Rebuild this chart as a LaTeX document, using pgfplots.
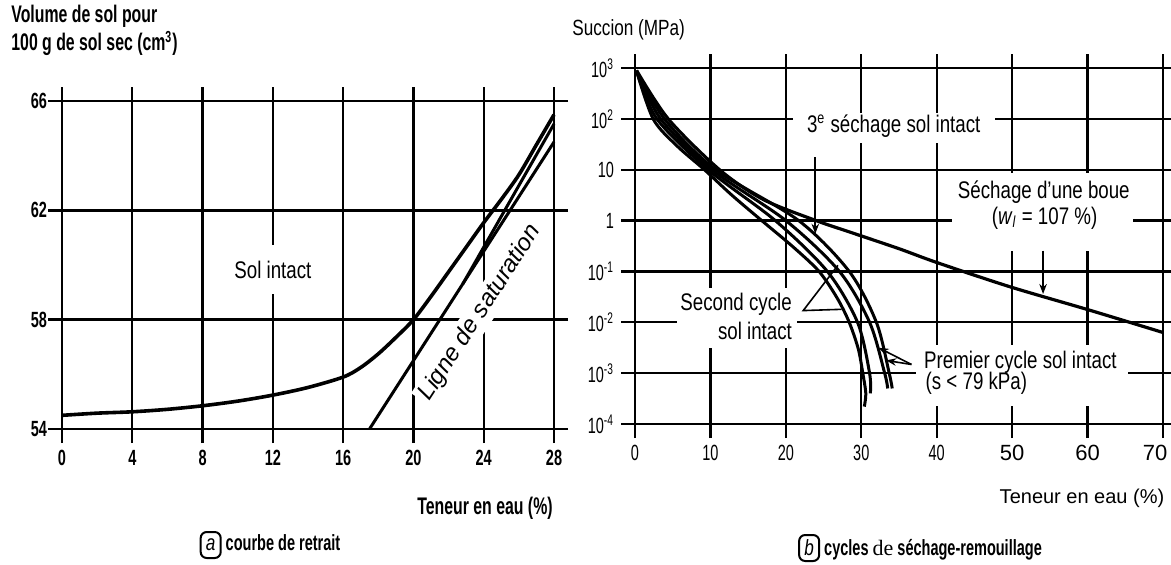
\documentclass[border=0pt]{standalone}
\usepackage{fontspec}
\setmainfont{Liberation Sans}[FakeStretch=0.78]
\newfontfamily\arial{Liberation Sans}
\newfontfamily\condb{Liberation Sans}[FakeStretch=0.66]
\newfontfamily\serif{Liberation Serif}
\usepackage{pgfplots}
\pgfplotsset{compat=1.18}
\usetikzlibrary{arrows.meta}
\newcommand\circled[1]{\tikz[baseline=(c.base)]\node[draw,line width=1pt,rounded corners=3pt,inner sep=1.5pt,minimum height=13pt,minimum width=10pt](c){\normalfont\itshape #1};}
\begin{document}
\begin{tikzpicture}
\path[use as bounding box] (0pt,0pt) rectangle (585.5pt,282pt);
% ---------- panel a ----------
\begin{axis}[at={(31pt,67.5pt)}, anchor=south west, scale only axis,
  width=246pt, height=164pt,
  xmin=0, xmax=28, ymin=54, ymax=66,
  xtick={0,4,...,28}, ytick={54,58,62,66},
  xticklabels={0,4,8,12,16,20,24,28}, yticklabels={54,58,62,66},
  grid=major, grid style={black,line width=1.2pt},
  axis line style={line width=1.2pt},
  tick align=outside, major tick length=7pt,
  every tick/.style={black,line width=1.2pt},
  ticklabel style={font=\condb\bfseries\fontsize{11}{12}\selectfont},
  yticklabel style={xshift=3pt},
  clip=false]
\node[fill=white, inner xsep=3pt, inner ysep=8pt, font=\fontsize{12}{13}\selectfont] at (axis cs:12,59.83) {Sol intact};
\node[fill=white, inner sep=1.5pt, rotate=57, font=\arial\itshape\fontsize{12}{13}\selectfont] at (axis cs:23.8,58.25) {Ligne de saturation};
\addplot[black, line width=1.8pt, smooth] coordinates {
(0,54.5) (2,54.58) (4,54.63) (6,54.72) (8,54.85) (10,55.02) (12,55.24) (14,55.52)
(16,55.9) (17,56.25) (18,56.75) (19,57.35) (20,58.0) (21,58.85) (22,59.75)
(23,60.65) (24,61.55) (25,62.4) (26,63.3) (27,64.4) (28,65.5)};
\addplot[black, line width=1.5pt] coordinates {(17.5,54) (28,64.5)};
\addplot[black, line width=1.5pt] coordinates {(22.8,59.3) (28,65.16)};
\end{axis}
% ---------- panel b ----------
\begin{axis}[at={(317.5pt,70pt)}, anchor=south west, scale only axis,
  width=264pt, height=178pt,
  xmin=0, xmax=70, ymode=log, ymin=1e-4, ymax=1e3,
  xtick={0,10,...,70},
  xticklabels={0,10,20,30,40,{\arial 50},{\arial 60},{\arial\hspace*{-8pt}70}},
  ytick={1e-4,1e-3,1e-2,1e-1,1,10,100,1000},
  yticklabels={10\textsuperscript{-4},10\textsuperscript{-3},10\textsuperscript{-2},10\textsuperscript{-1},1,10,10\textsuperscript{2},10\textsuperscript{3}},
  yminorticks=false,
  grid=major, grid style={black,line width=1.2pt},
  axis line style={line width=1.2pt},
  tick align=outside, major tick length=7pt,
  every tick/.style={black,line width=1.2pt},
  ticklabel style={font=\condb\fontsize{11}{12}\selectfont},
  clip=false]
% white boxes covering grid behind labels
\fill[white] (axis cs:20.9,131) rectangle (axis cs:47.7,34);
\fill[white] (axis cs:42,8.7) rectangle (axis cs:66,0.257);
\fill[white] (axis cs:5.6,0.0479) rectangle (axis cs:21.5,0.00316);
\fill[white] (axis cs:37.3,0.00355) rectangle (axis cs:65.3,0.000224);
% curves
\addplot[black, line width=1.6pt, smooth] coordinates {
(0.2,900) (4.4,100) (11.2,10) (17,2.6) (24,1) (28.4,0.6) (35,0.28) (40,0.15)
(49.7,0.05) (60,0.0178) (70,0.0063)};
\addplot[black, line width=1.5pt, smooth] coordinates {
(0.2,880) (2.4,100) (5.5,30) (9.2,10) (12.8,3.2) (16.8,1) (21,0.3) (24.4,0.1)
(26.8,0.03) (28.4,0.01) (29.6,0.003) (30.2,0.001) (30.6,0.0004) (30.4,0.00022)};
\addplot[black, line width=1.5pt, smooth] coordinates {
(0.2,880) (2.9,100) (9.7,10) (18.6,1) (25.5,0.1) (29.5,0.01) (31.1,0.001) (31.2,0.0004)};
\addplot[black, line width=1.5pt, smooth] coordinates {
(0.2,880) (3.4,100) (10.2,10) (20,1) (27.1,0.1) (31.1,0.01) (33.1,0.001) (33.5,0.0005)};
\addplot[black, line width=1.5pt, smooth] coordinates {
(0.2,880) (3.9,100) (10.7,10) (21.7,1) (28.4,0.1) (32,0.01) (33.7,0.001) (34.1,0.0005)};
% labels
\node[font=\fontsize{12}{13}\selectfont] at (axis cs:34.3,72) {3\textsuperscript{e} séchage sol intact};
\draw[line width=0.8pt, -{Stealth[length=5pt]}] (axis cs:23.9,17.4) -- (axis cs:23.9,0.55);
\node[font=\fontsize{12}{13}\selectfont] at (axis cs:54.2,3.63) {Séchage d'une boue};
\node[font=\fontsize{12}{13}\selectfont] at (axis cs:54.3,1.12) {(\textit{w}\textsubscript{\textit{l}} = 107 \%)};
\draw[line width=0.8pt, -{Stealth[length=5pt]}] (axis cs:54.1,0.257) -- (axis cs:54.1,0.036);
\node[font=\fontsize{12}{13}\selectfont] at (axis cs:13.4,0.0229) {Second cycle};
\node[font=\fontsize{12}{13}\selectfont] at (axis cs:15.9,0.00676) {sol intact};
\draw[line width=0.8pt] (axis cs:26.9,0.132) -- (axis cs:22.3,0.017) -- (axis cs:27.4,0.018);
\node[font=\fontsize{12}{13}\selectfont] at (axis cs:51.1,0.00162) {Premier cycle sol intact};
\node[font=\fontsize{12}{13}\selectfont, anchor=west] at (axis cs:37.6,0.00063) {(s < 79 kPa)};
\draw[line width=0.8pt, -{Stealth[length=5pt]}] (axis cs:36.65,0.00148) -- (axis cs:32.3,0.00316);
\draw[line width=0.8pt, -{Stealth[length=5pt]}] (axis cs:36.65,0.00148) -- (axis cs:33.3,0.00178);
\end{axis}
% ---------- titles ----------
\node[anchor=north west, align=left, font=\condb\bfseries\fontsize{12}{14}\selectfont, inner sep=0pt] at (5.5pt,279.5pt) {Volume de sol pour\\100 g de sol sec (cm\textsuperscript{3})};
\node[anchor=west, font=\fontsize{11}{12}\selectfont, inner sep=0pt] at (286pt,267pt) {Succion (MPa)};
\node[font=\condb\bfseries\fontsize{12}{13}\selectfont] at (242.5pt,28pt) {Teneur en eau (\%)};
\node[font=\arial\fontsize{10}{12}\selectfont] at (541pt,33pt) {Teneur en eau (\%)};
\node[font=\condb\bfseries\fontsize{11}{13}\selectfont] at (135pt,9.5pt) {\circled{a} courbe de retrait};
\node[font=\condb\bfseries\fontsize{11}{13}\selectfont] at (460pt,8pt) {\circled{b} cycles {\serif\mdseries de} séchage-remouillage};
\end{tikzpicture}
\end{document}
